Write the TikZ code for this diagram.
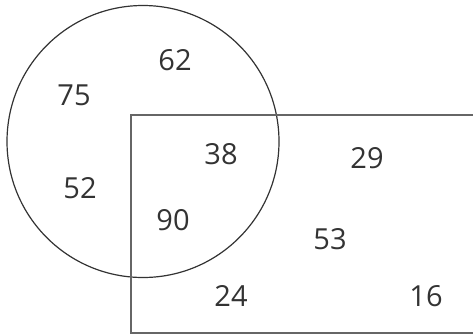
\documentclass[tikz,border=0pt]{standalone}
\usepackage{fontspec}
\setmainfont{Open Sans}
\usepackage{tikz}

\begin{document}
\begin{tikzpicture}[x=1pt,y=-1pt,
    num/.style={font=\fontsize{29}{32}\selectfont, text=black!80},
    edge/.style={line width=1.2pt, draw=black!80}]
  % ---------- canvas ----------
  \useasboundingbox (0,0) rectangle (473,335);

  % ---------- circle and rectangle ----------
  \coordinate (cc) at (143,141.5);
  \def\R{136}
  \draw[edge] (cc) circle (\R);

  \coordinate (rtl) at (131,115);
  \coordinate (rbl) at (131,333);
  \coordinate (rtr) at (473,115);
  \coordinate (rbr) at (473,333);
  \draw[edge, draw=black!60] (rtr) -- (rtl) -- (rbl) -- (rbr);

  % ---------- numbers ----------
  \node[num] (n62) at (175,60) {62};
  \node[num] (n75) at (74,95) {75};
  \node[num] (n52) at (80,188) {52};
  \node[num] (n38) at (221,154) {38};
  \node[num] (n90) at (173,220) {90};
  \node[num] (n29) at (367,158) {29};
  \node[num] (n53) at (330,239) {53};
  \node[num] (n24) at (231,296) {24};
  \node[num] (n16) at (426,296) {16};
\end{tikzpicture}
\end{document}
